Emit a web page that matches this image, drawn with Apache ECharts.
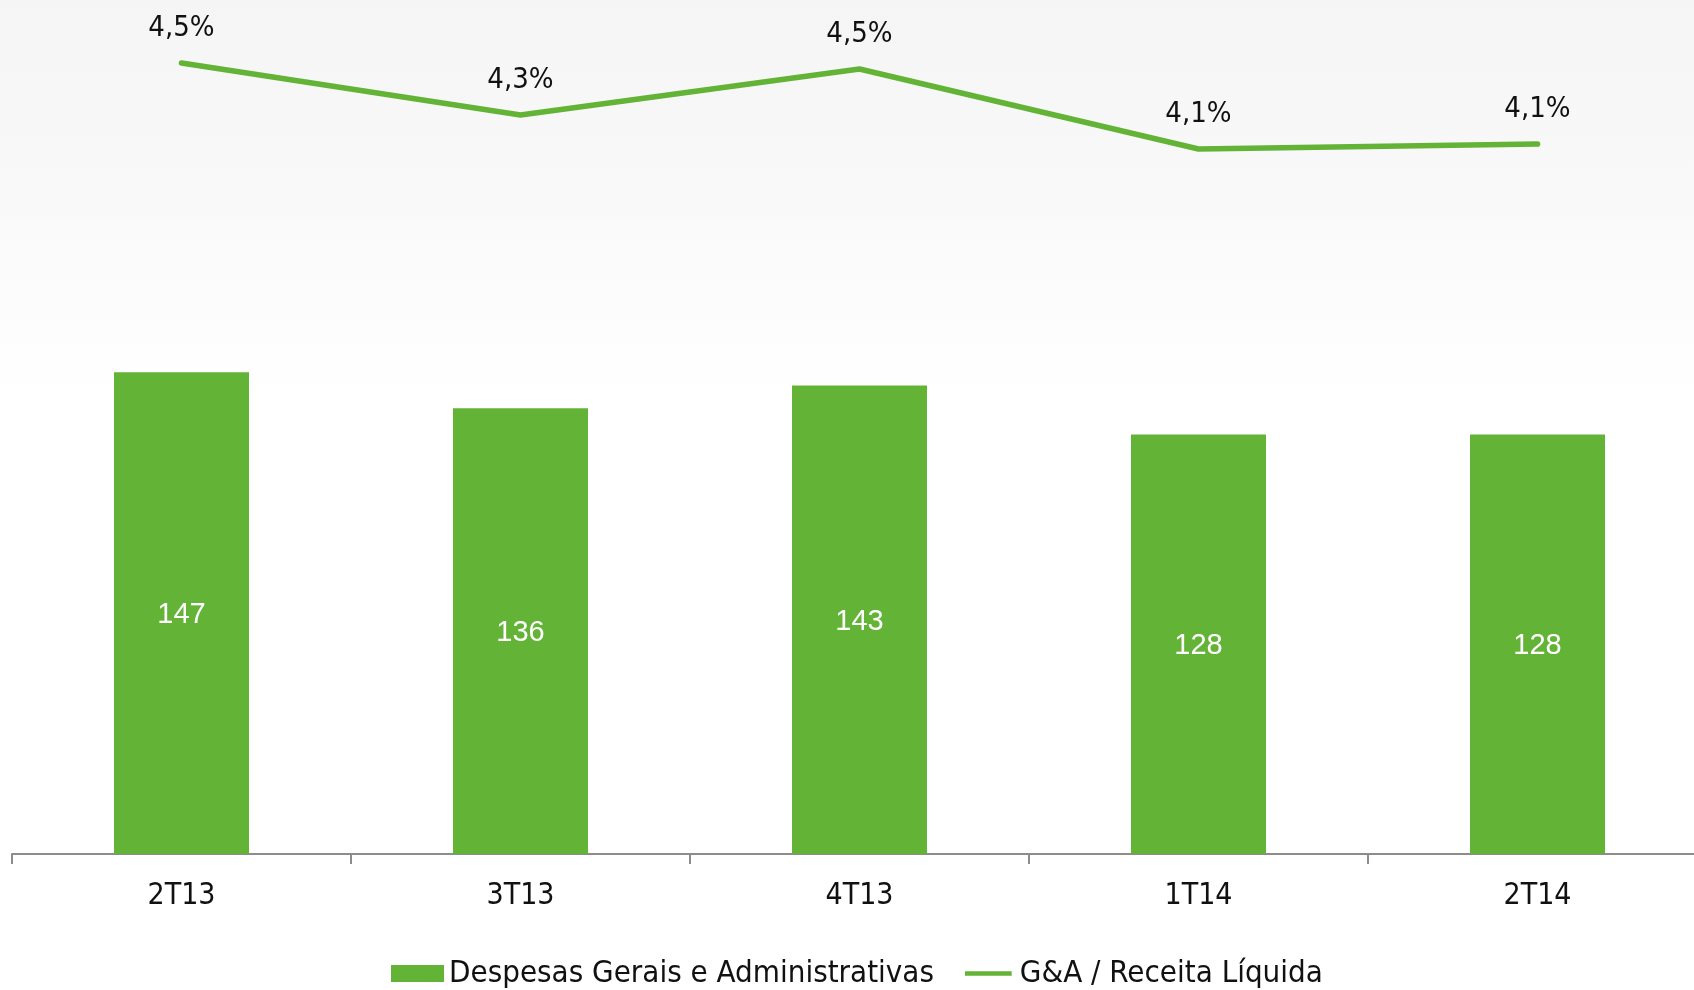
<!DOCTYPE html>
<html>
<head>
<meta charset="utf-8">
<script src="https://cdn.jsdelivr.net/npm/echarts@6/dist/echarts.min.js"></script>
<style>
html,body{margin:0;padding:0;background:#fff;}
#chart{width:1694px;height:990px;}
</style>
</head>
<body>
<div id="chart"></div>
<script>
const categories = ['2T13', '3T13', '4T13', '1T14', '2T14'];
const gaValues = [147, 136, 143, 128, 128];
const ratioValues = [4.54, 4.28, 4.51, 4.11, 4.135];
const barName = 'Despesas Gerais e Administrativas';
const lineName = 'G&A / Receita Líquida';

const green = '#63b337';
const chart = echarts.init(document.getElementById('chart'));
chart.setOption({
  animation: false,
  backgroundColor: '#ffffff',
  graphic: [{
    type: 'rect',
    z: -100,
    silent: true,
    shape: {x: 0, y: 0, width: 1694, height: 400},
    style: {
      fill: new echarts.graphic.LinearGradient(0, 0, 0, 1, [
        {offset: 0, color: '#f5f5f5'},
        {offset: 0.5, color: '#f9f9f9'},
        {offset: 1, color: '#ffffff'}
      ])
    }
  }],
  grid: {left: 12, top: 2, width: 1695, height: 852, containLabel: false, outerBoundsMode: 'none'},
  legend: {
    left: 386,
    top: 953,
    itemWidth: 53,
    itemHeight: 17,
    itemGap: 31,
    textStyle: {fontFamily: 'DejaVu Sans Condensed', fontSize: 31, color: '#111'},
    data: [
      {name: barName, icon: 'rect'},
      {name: lineName, icon: 'path://M0,0L0.01,0L0.01,0.01Z M0,7.3H55V12.7H0Z M0,20L0.01,20L0.01,19.99Z'}
    ]
  },
  xAxis: {
    type: 'category',
    data: categories,
    axisLine: {lineStyle: {color: '#8c8c8c', width: 2}},
    axisTick: {show: true, length: 10, lineStyle: {color: '#8c8c8c', width: 2}},
    axisLabel: {fontFamily: 'DejaVu Sans Condensed', fontSize: 30, color: '#111', margin: 27}
  },
  yAxis: [
    {type: 'value', min: 0, max: 260, show: false, splitLine: {show: false}},
    {type: 'value', min: 0.585, max: 4.845, show: false, splitLine: {show: false}}
  ],
  series: [
    {
      name: barName,
      type: 'bar',
      yAxisIndex: 0,
      barWidth: 135,
      data: gaValues,
      itemStyle: {color: green},
      label: {
        show: true,
        position: 'inside',
        offset: [0, 2],
        color: '#ffffff',
        fontFamily: 'Liberation Sans',
        fontSize: 29
      }
    },
    {
      name: lineName,
      type: 'line',
      yAxisIndex: 1,
      data: ratioValues,
      symbol: 'circle',
      symbolSize: 1,
      showSymbol: true,
      lineStyle: {color: green, width: 5.6, cap: 'round', join: 'round'},
      itemStyle: {color: green},
      label: {
        show: true,
        position: 'top',
        distance: 20,
        color: '#111',
        fontFamily: 'DejaVu Sans Condensed',
        fontSize: 29,
        formatter: p => p.value.toFixed(1).replace('.', ',') + '%'
      }
    }
  ]
});
</script>
</body>
</html>
